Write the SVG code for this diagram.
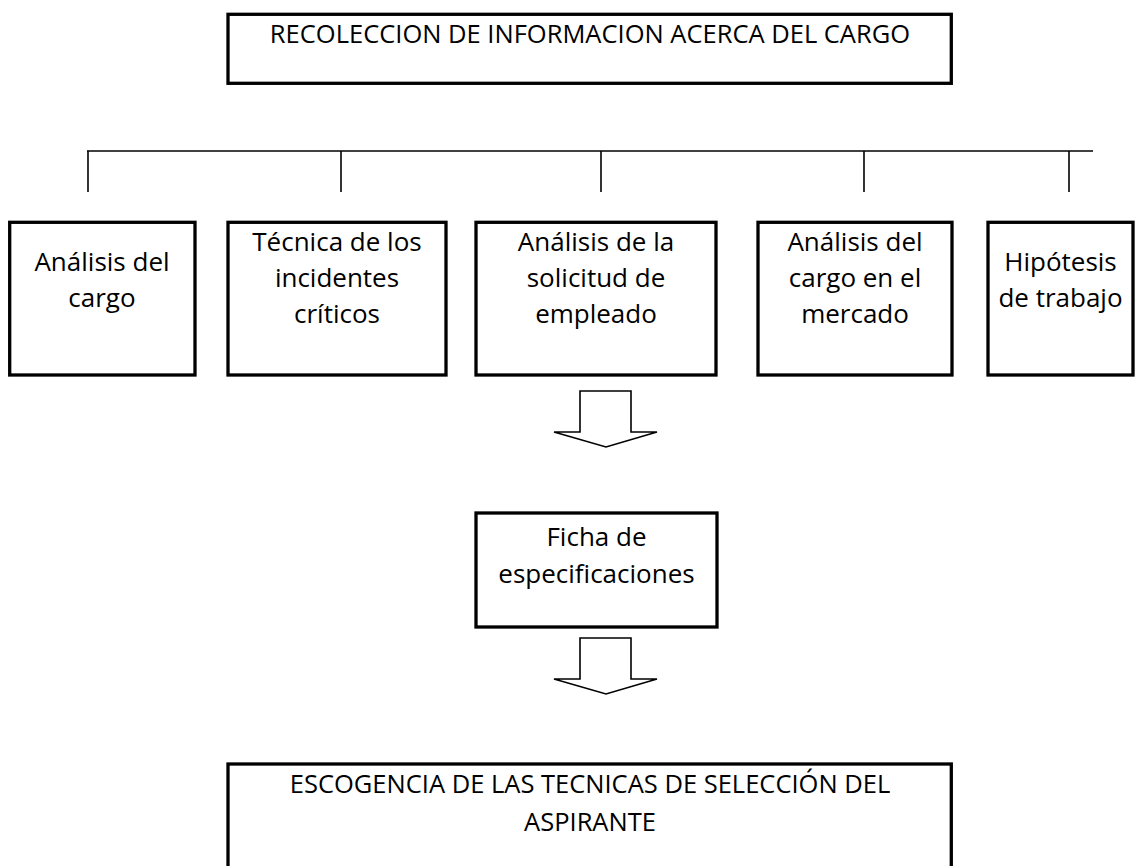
<svg xmlns="http://www.w3.org/2000/svg" width="1135" height="866" viewBox="0 0 1135 866">
<style>
.box{fill:#fff;stroke:#000;stroke-width:3.3}
.ln{stroke:#000;stroke-width:1.6;fill:none}
.arr{fill:#fff;stroke:#000;stroke-width:1.6;stroke-linejoin:miter}
text{font-family:"Open Sans","Liberation Sans",sans-serif;font-size:26px;fill:#000;text-anchor:middle}
.big{font-size:25.5px}
</style>
<defs>
<path id="blockArrow" d="M580,391 L631,391 L631,432 L657,432 L606,447 L554,432 L580,432 Z"/>
</defs>
<rect width="1135" height="866" fill="#fff"/>
<g id="connectors">
<line class="ln" x1="87" y1="151" x2="1093" y2="151"/>
<line class="ln" x1="88" y1="151" x2="88" y2="192"/>
<line class="ln" x1="341" y1="151" x2="341" y2="192"/>
<line class="ln" x1="601" y1="151" x2="601" y2="192"/>
<line class="ln" x1="864" y1="151" x2="864" y2="192"/>
<line class="ln" x1="1069" y1="151" x2="1069" y2="192"/>
<use href="#blockArrow" class="arr"/>
<use href="#blockArrow" class="arr" transform="translate(0,247)"/>
</g>
<g id="top">
<rect class="box" x="228" y="14.3" width="723.3" height="69"/>
<text class="big" x="590" y="43">RECOLECCION DE INFORMACION ACERCA DEL CARGO</text>
</g>
<g id="n1">
<rect class="box" x="9.7" y="222.3" width="185.3" height="152.7"/>
<text x="102" y="271">Análisis del</text>
<text x="102" y="307">cargo</text>
</g>
<g id="n2">
<rect class="box" x="228" y="222.3" width="218" height="152.7"/>
<text x="337" y="251">Técnica de los</text>
<text x="337" y="287">incidentes</text>
<text x="337" y="323">críticos</text>
</g>
<g id="n3">
<rect class="box" x="476" y="222.3" width="240" height="152.7"/>
<text x="596" y="251">Análisis de la</text>
<text x="596" y="287">solicitud de</text>
<text x="596" y="323">empleado</text>
</g>
<g id="n4">
<rect class="box" x="758" y="222.3" width="194" height="152.7"/>
<text x="855" y="251">Análisis del</text>
<text x="855" y="287">cargo en el</text>
<text x="855" y="323">mercado</text>
</g>
<g id="n5">
<rect class="box" x="988" y="222.3" width="145" height="152.7"/>
<text x="1060.5" y="271">Hipótesis</text>
<text x="1060.5" y="307">de trabajo</text>
</g>
<g id="ficha">
<rect class="box" x="476" y="513" width="241" height="114"/>
<text x="596.5" y="546">Ficha de</text>
<text x="596.5" y="583">especificaciones</text>
</g>
<g id="escogencia">
<rect class="box" x="228" y="764" width="723.3" height="110"/>
<text class="big" x="590" y="793">ESCOGENCIA DE LAS TECNICAS DE SELECCIÓN DEL</text>
<text class="big" x="590" y="831">ASPIRANTE</text>
</g>
</svg>
